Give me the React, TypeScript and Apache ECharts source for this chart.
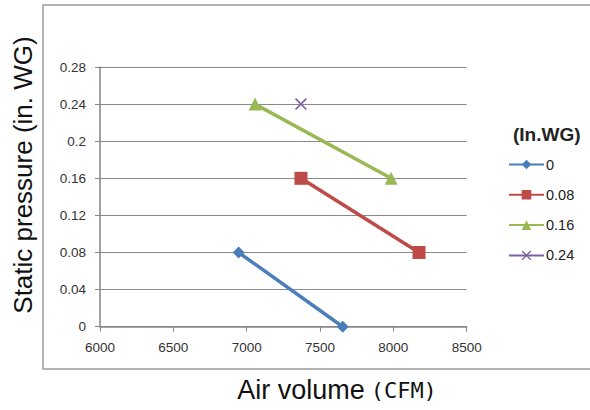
import React, { useEffect, useRef } from "react";
import * as echarts from "echarts";

const seriesNames = ["0", "0.08", "0.16", "0.24"];
const s0: [number, number][] = [[6945, 0.08], [7655, 0]];
const s008: [number, number][] = [[7370, 0.16], [8175, 0.08]];
const s016: [number, number][] = [[7057, 0.24], [7985, 0.16]];
const s024: [number, number][] = [[7370, 0.24]];
const colors = ["#4A7EBB", "#BE4B48", "#98B954", "#7D60A0"];
const symbols = [
  "diamond",
  "rect",
  "triangle",
  "path://M0,1L1,0L10,9L9,10Z M9,0L10,1L1,10L0,9Z",
];
const symbolSizes = [12, 13, 13, 12];
const xTitle = "Air volume";
const xUnit = "(CFM)";
const yTitle = "Static pressure (in. WG)";
const legendTitle = "(In.WG)";

export default function App() {
  const ref = useRef<HTMLDivElement>(null);
  useEffect(() => {
    if (!ref.current) return;
    const chart = echarts.init(ref.current, undefined, { renderer: "svg" });
    const data = [s0, s008, s016, s024];
    const font = "'Liberation Sans', Arial, sans-serif";
    chart.setOption({
      animation: false,
      backgroundColor: "#fff",
      grid: { left: 100, top: 67, right: 123.3, bottom: 83.3, containLabel: false },
      xAxis: {
        type: "value",
        min: 6000,
        max: 8500,
        interval: 500,
        axisLine: { show: true, lineStyle: { color: "#868686", width: 1.5 } },
        axisTick: { show: true, length: 5, lineStyle: { color: "#868686" } },
        axisLabel: {
          color: "#333",
          fontSize: 13.5,
          fontFamily: font,
          margin: 14,
          formatter: (v: number) => String(v),
        },
        splitLine: { show: false },
      },
      yAxis: {
        type: "value",
        min: 0,
        max: 0.28,
        interval: 0.04,
        axisLine: { show: true, lineStyle: { color: "#868686", width: 1.5 } },
        axisTick: { show: true, length: 5, lineStyle: { color: "#868686" } },
        axisLabel: { color: "#333", fontSize: 13.5, fontFamily: font, margin: 14 },
        splitLine: { show: true, lineStyle: { color: "#8a8a8a", width: 1 } },
      },
      legend: {
        orient: "vertical",
        left: 508,
        top: 157,
        padding: 0,
        itemWidth: 35,
        itemHeight: 12,
        itemGap: 15.3,
        textStyle: { fontSize: 14.5, color: "#222", fontFamily: font, padding: [0, 0, 0, -3] },
        data: seriesNames,
      },
      graphic: [
        {
          type: "rect",
          silent: true,
          shape: { x: 43, y: 5, width: 600, height: 364 },
          style: { fill: "none", stroke: "#9a9a9a", lineWidth: 1.5 },
          z: -1,
        },
        {
          type: "text",
          x: 513,
          y: 134,
          style: {
            text: legendTitle,
            fontSize: 19,
            fontWeight: "bold",
            fill: "#222",
            fontFamily: font,
            textVerticalAlign: "middle",
          },
        },
        {
          type: "text",
          x: 23,
          y: 175,
          rotation: Math.PI / 2,
          style: {
            text: yTitle,
            fontSize: 26,
            fill: "#111",
            fontFamily: font,
            textAlign: "center",
            textVerticalAlign: "middle",
          },
        },
        {
          type: "text",
          x: 337,
          y: 390,
          style: {
            text: "{a|" + xTitle + "}{b|" + xUnit + "}",
            textAlign: "center",
            textVerticalAlign: "middle",
            rich: {
              a: { fontSize: 27, fill: "#111", fontFamily: font },
              b: { fontSize: 22, fill: "#111", fontFamily: "'DejaVu Sans Mono', monospace", padding: [0, 0, 0, 6] },
            },
          },
        },
      ],
      series: data.map((d, i) => ({
        name: seriesNames[i],
        type: "line",
        data: d,
        symbol: symbols[i],
        symbolSize: symbolSizes[i],
        showSymbol: true,
        lineStyle: { color: colors[i], width: 3.5 },
        itemStyle: { color: colors[i] },
      })),
    });
    return () => chart.dispose();
  }, []);
  return (
    <div
      ref={ref}
      style={{ position: "fixed", left: 0, top: 0, width: 590, height: 410 }}
    />
  );
}
